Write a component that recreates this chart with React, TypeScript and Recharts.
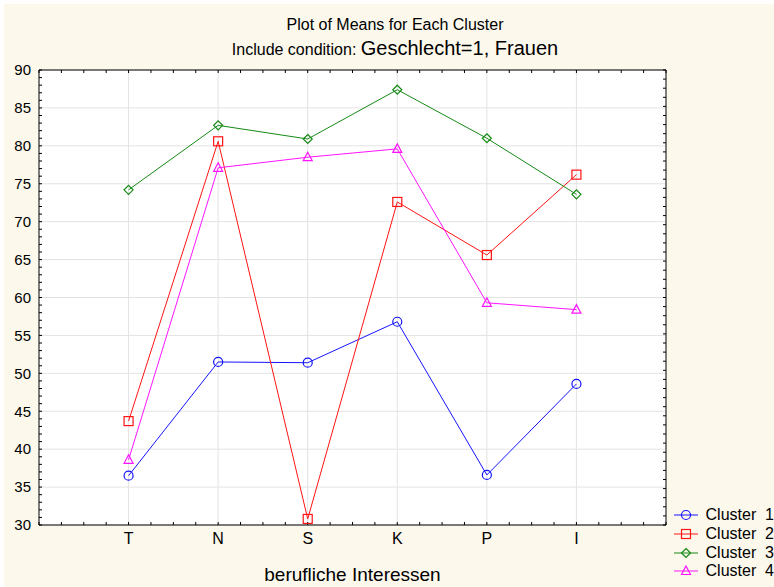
import React from 'react';
import { LineChart, Line, XAxis, YAxis, CartesianGrid, Legend } from 'recharts';

const categories = ['T', 'N', 'S', 'K', 'P', 'I'];
const cluster1 = [36.5, 51.5, 51.4, 56.8, 36.6, 48.6];
const cluster2 = [43.7, 80.6, 30.8, 72.6, 65.6, 76.2];
const cluster3 = [74.2, 82.7, 80.9, 87.4, 81.0, 73.6];
const cluster4 = [38.6, 77.1, 78.5, 79.6, 59.3, 58.4];
const yTicks = [30, 35, 40, 45, 50, 55, 60, 65, 70, 75, 80, 85, 90];
const xTicks = [1, 2, 3, 4, 5, 6];

// small tick marks round the frame
const xMinor = Array.from({ length: 29 }, (_, i) => i * 0.25);
const yMinor = Array.from({ length: 61 }, (_, i) => 30 + i);
const rightMinor = Array.from({ length: 51 }, (_, i) => 30 + i * 1.2);

type Shape = 'circle' | 'square' | 'diamond' | 'triangle';

const series: { key: string; name: string; values: number[]; color: string; shape: Shape }[] = [
  { key: 'c1', name: 'Cluster  1', values: cluster1, color: '#1414ff', shape: 'circle' },
  { key: 'c2', name: 'Cluster  2', values: cluster2, color: '#ff1414', shape: 'square' },
  { key: 'c3', name: 'Cluster  3', values: cluster3, color: '#158a15', shape: 'diamond' },
  { key: 'c4', name: 'Cluster  4', values: cluster4, color: '#ff14ff', shape: 'triangle' },
];

const data = categories.map((label, i) => {
  const row: Record<string, number | string> = { pos: i + 1, label };
  series.forEach((s) => {
    row[s.key] = s.values[i];
  });
  return row;
});

const Marker = ({ shape, cx, cy, color }: { shape: Shape; cx: number; cy: number; color: string }) => {
  const common = { fill: 'none', stroke: color, strokeWidth: 1.2 };
  switch (shape) {
    case 'circle':
      return <circle cx={cx} cy={cy} r={4.5} {...common} />;
    case 'square':
      return <rect x={cx - 4.5} y={cy - 4.5} width={9} height={9} {...common} />;
    case 'diamond':
      return (
        <polygon
          points={`${cx},${cy - 4.5} ${cx + 4.5},${cy} ${cx},${cy + 4.5} ${cx - 4.5},${cy}`}
          {...common}
        />
      );
    default:
      return (
        <polygon
          points={`${cx},${cy - 5} ${cx + 4.5},${cy + 3.5} ${cx - 4.5},${cy + 3.5}`}
          {...common}
        />
      );
  }
};

const renderLegend = (props: any) => (
  <div>
    {(props.payload ?? []).map((entry: any) => {
      const s = series.find((x) => x.key === entry.dataKey);
      if (!s) return null;
      return (
        <div key={s.key} style={{ display: 'flex', alignItems: 'center', height: 18.7, whiteSpace: 'pre' }}>
          <svg width={28} height={18}>
            <line x1={2} y1={9} x2={26} y2={9} stroke={s.color} strokeWidth={1} />
            <Marker shape={s.shape} cx={14} cy={9} color={s.color} />
          </svg>
          <span style={{ marginLeft: 6, fontSize: 16, color: '#000' }}>{s.name}</span>
        </div>
      );
    })}
  </div>
);

const blank = () => '';
const thin = 0.01;

const App = () => {
  return (
    <div
      style={{
        position: 'absolute',
        left: 0,
        top: 0,
        width: 774,
        height: 587,
        overflow: 'hidden',
        background: '#ffffff',
        fontFamily: '"Liberation Sans", Arial, sans-serif',
      }}
    >
      <div style={{ position: 'absolute', left: 4, top: 4, right: 0, bottom: 0, background: '#fcf8ec' }} />
      <div style={{ position: 'absolute', left: 16, width: 758, top: 15, textAlign: 'center', fontSize: 16, lineHeight: '20px' }}>
        Plot of Means for Each Cluster
      </div>
      <div style={{ position: 'absolute', left: 16, width: 758, top: 36, textAlign: 'center', lineHeight: '24px' }}>
        <span style={{ fontSize: 16 }}>Include condition: </span>
        <span style={{ fontSize: 20 }}>Geschlecht=1, Frauen</span>
      </div>
      <div style={{ position: 'absolute', left: 0, top: 0 }}>
        <LineChart width={774} height={587} data={data} margin={{ top: 70 - thin, right: 108 - thin, bottom: 0, left: 0 }}>
          <CartesianGrid stroke="#e3e3e3" fill="#ffffff" horizontalValues={yTicks} verticalValues={xTicks} />
          <XAxis
            dataKey="pos"
            type="number"
            domain={[0, 7]}
            allowDataOverflow
            ticks={xMinor}
            interval={0}
            tickFormatter={(v: number) => (Number.isInteger(v) ? categories[v - 1] ?? '' : '')}
            tickLine={{ stroke: '#000' }}
            tickSize={-3}
            tickMargin={11}
            axisLine={{ stroke: '#000' }}
            tick={{ fill: '#000', fontSize: 16 }}
            height={62}
            label={{ value: 'berufliche Interessen', position: 'insideBottom', offset: 6, fill: '#000', fontSize: 19 }}
          />
          <YAxis
            type="number"
            domain={[30, 90]}
            allowDataOverflow
            ticks={yMinor}
            interval={0}
            tickFormatter={(v: number) => (v % 5 === 0 ? String(v) : '')}
            tickLine={{ stroke: '#000' }}
            tickSize={-3}
            tickMargin={11}
            axisLine={{ stroke: '#000' }}
            tick={{ fill: '#000', fontSize: 15 }}
            width={39}
          />
          <XAxis xAxisId="top" orientation="top" dataKey="pos" type="number" domain={[0, 7]} allowDataOverflow
            ticks={xMinor} interval={0} height={thin}
            tickFormatter={blank} axisLine={{ stroke: '#000' }} tickSize={-3} tickLine={{ stroke: '#000' }} />
          <YAxis yAxisId="right" orientation="right" dataKey="c3" type="number" domain={[30, 90]} allowDataOverflow
            ticks={rightMinor} interval={0} width={thin}
            tickFormatter={blank} axisLine={{ stroke: '#000' }} tickSize={-3} tickLine={{ stroke: '#000' }} />
          <Legend
            layout="vertical"
            align="center"
            verticalAlign="middle"
            content={renderLegend}
            wrapperStyle={{ left: 672, top: 506, width: 102, height: 76 }}
          />
          {series.map((s) => (
            <Line
              key={s.key}
              dataKey={s.key}
              name={s.name}
              stroke={s.color}
              strokeWidth={1}
              isAnimationActive={false}
              dot={(p: any) => (
                <Marker key={`${s.key}-${p.index}`} shape={s.shape} cx={p.cx} cy={p.cy} color={s.color} />
              )}
              activeDot={false}
            />
          ))}
        </LineChart>
      </div>
    </div>
  );
};

export default App;
